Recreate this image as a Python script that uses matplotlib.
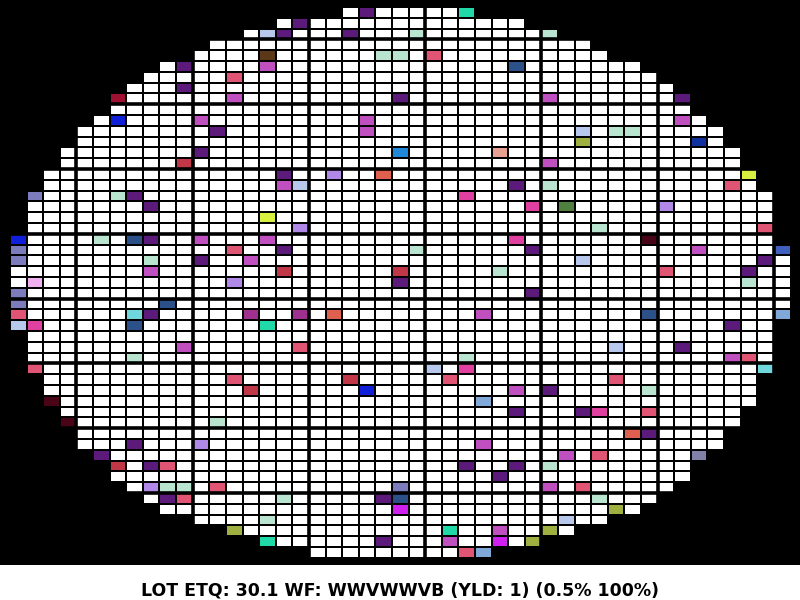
import numpy as np
import matplotlib
matplotlib.use("Agg")
import matplotlib.pyplot as plt
from matplotlib.colors import ListedColormap

# wafer map: first / last die column present in each row (row 0 = top)
row_start = [20, 16, 14, 12, 11, 9, 8, 7, 6, 6,
             5, 4, 4, 3, 3, 2, 2, 1, 1, 1,
             1, 0, 0, 0, 0, 0, 0, 0, 0, 0,
             1, 1, 1, 1, 2, 2, 2, 3, 3, 4,
             4, 5, 6, 6, 7, 8, 9, 11, 13, 15,
             18]
row_end = [27, 30, 32, 34, 35, 37, 38, 39, 40, 40,
           41, 42, 42, 43, 43, 44, 44, 45, 45, 45,
           45, 45, 46, 46, 46, 46, 46, 46, 46, 45,
           45, 45, 45, 45, 44, 44, 44, 43, 43, 42,
           42, 41, 40, 40, 39, 38, 37, 35, 33, 31,
           28]

# bin colours
bin_names = ["pass", "purple", "orchid", "pinkred", "red", "darkred", "maroon",
             "mint", "lightblue", "lavender", "slate", "steel", "blue",
             "brightblue", "cyan", "teal", "coral", "brown", "yellowgreen",
             "olive", "green", "hotpink", "lightpink", "magenta", "peach",
             "magpurple", "lightsteel", "navy", "lslate", "blue2"]
bin_colors = ["#ffffff", "#5c1a7a", "#c050c0", "#e05474", "#c03848", "#a01030",
              "#4a0418", "#b8e4d0", "#b8c8ec", "#b088e8", "#7c7cbc", "#2c5088",
              "#1020d8", "#2088d8", "#70d8dc", "#20d8a8", "#e06050", "#5a3818",
              "#d8f040", "#a0b040", "#508040", "#e040a0", "#f0b0f0", "#d020f0",
              "#e8a090", "#a03090", "#80a8d8", "#1030a0", "#8080a8", "#4060c0"]

# failing dies: (row, col, bin)
fails = [
    (0, 21, "purple"), (0, 27, "teal"),
    (1, 17, "purple"),
    (2, 15, "lightblue"), (2, 16, "purple"), (2, 20, "purple"), (2, 24, "mint"), (2, 32, "mint"),
    (4, 15, "brown"), (4, 22, "mint"), (4, 23, "mint"), (4, 25, "pinkred"),
    (5, 10, "purple"), (5, 15, "orchid"), (5, 30, "steel"),
    (6, 13, "pinkred"),
    (7, 10, "purple"),
    (8, 6, "darkred"), (8, 13, "orchid"), (8, 23, "purple"), (8, 32, "orchid"), (8, 40, "purple"),
    (10, 6, "blue"), (10, 11, "orchid"), (10, 21, "orchid"), (10, 40, "orchid"),
    (11, 12, "purple"), (11, 21, "orchid"), (11, 34, "lightblue"), (11, 36, "mint"), (11, 37, "mint"),
    (12, 34, "olive"), (12, 41, "navy"),
    (13, 11, "purple"), (13, 23, "brightblue"), (13, 29, "peach"),
    (14, 10, "red"), (14, 32, "orchid"),
    (15, 16, "purple"), (15, 19, "lavender"), (15, 22, "coral"), (15, 44, "yellowgreen"),
    (16, 16, "orchid"), (16, 17, "lightblue"), (16, 30, "purple"), (16, 32, "mint"), (16, 43, "pinkred"),
    (17, 1, "slate"), (17, 6, "mint"), (17, 7, "purple"), (17, 27, "hotpink"),
    (18, 8, "purple"), (18, 31, "hotpink"), (18, 33, "green"), (18, 39, "lavender"),
    (19, 15, "yellowgreen"),
    (20, 17, "lavender"), (20, 35, "mint"), (20, 45, "pinkred"),
    (21, 0, "blue"), (21, 5, "mint"), (21, 7, "steel"), (21, 8, "purple"), (21, 11, "orchid"),
    (21, 15, "orchid"), (21, 30, "hotpink"), (21, 38, "maroon"),
    (22, 0, "slate"), (22, 13, "pinkred"), (22, 16, "purple"), (22, 24, "mint"), (22, 31, "purple"),
    (22, 41, "orchid"), (22, 46, "blue2"),
    (23, 0, "slate"), (23, 8, "mint"), (23, 11, "purple"), (23, 14, "orchid"), (23, 34, "lightblue"),
    (23, 45, "purple"),
    (24, 8, "orchid"), (24, 16, "red"), (24, 23, "red"), (24, 29, "mint"), (24, 39, "pinkred"),
    (24, 44, "purple"),
    (25, 1, "lightpink"), (25, 13, "lavender"), (25, 23, "purple"), (25, 44, "mint"),
    (26, 0, "slate"), (26, 31, "purple"),
    (27, 0, "slate"), (27, 9, "steel"),
    (28, 0, "pinkred"), (28, 7, "cyan"), (28, 8, "purple"), (28, 14, "magpurple"), (28, 17, "magpurple"),
    (28, 19, "coral"), (28, 28, "orchid"), (28, 38, "steel"), (28, 46, "lightsteel"),
    (29, 0, "lightblue"), (29, 1, "hotpink"), (29, 7, "steel"), (29, 15, "teal"), (29, 43, "purple"),
    (31, 10, "orchid"), (31, 17, "pinkred"), (31, 36, "lightblue"), (31, 40, "purple"),
    (32, 7, "mint"), (32, 27, "mint"), (32, 43, "orchid"), (32, 44, "pinkred"),
    (33, 1, "pinkred"), (33, 25, "lightblue"), (33, 27, "hotpink"), (33, 45, "cyan"),
    (34, 13, "pinkred"), (34, 20, "red"), (34, 26, "pinkred"), (34, 36, "pinkred"),
    (35, 14, "red"), (35, 21, "blue"), (35, 30, "orchid"), (35, 32, "purple"), (35, 38, "mint"),
    (36, 2, "maroon"), (36, 28, "lightsteel"),
    (37, 30, "purple"), (37, 34, "purple"), (37, 35, "hotpink"), (37, 38, "pinkred"),
    (38, 3, "maroon"), (38, 12, "mint"),
    (39, 37, "coral"), (39, 38, "purple"),
    (40, 7, "purple"), (40, 11, "lavender"), (40, 28, "orchid"),
    (41, 5, "purple"), (41, 33, "orchid"), (41, 35, "pinkred"), (41, 41, "lslate"),
    (42, 6, "red"), (42, 8, "purple"), (42, 9, "pinkred"), (42, 27, "purple"), (42, 30, "purple"),
    (42, 32, "mint"),
    (43, 29, "purple"),
    (44, 8, "lavender"), (44, 9, "mint"), (44, 10, "mint"), (44, 12, "pinkred"), (44, 23, "slate"),
    (44, 32, "orchid"), (44, 34, "pinkred"),
    (45, 9, "purple"), (45, 10, "pinkred"), (45, 16, "mint"), (45, 22, "purple"), (45, 23, "steel"),
    (45, 35, "mint"),
    (46, 23, "magenta"), (46, 36, "olive"),
    (47, 15, "mint"), (47, 33, "lightblue"),
    (48, 13, "olive"), (48, 26, "teal"), (48, 29, "orchid"), (48, 32, "olive"),
    (49, 15, "teal"), (49, 22, "purple"), (49, 26, "orchid"), (49, 29, "magenta"), (49, 31, "olive"),
    (50, 27, "pinkred"), (50, 28, "lightsteel"),
]

# reticle boundaries (thicker lines)
reticle_cols = [4, 11, 18, 25, 32, 39, 46]
reticle_rows = [3, 9, 15, 21, 27, 33, 39, 45]

caption = "LOT ETQ: 30.1 WF: WWVWWVB (YLD: 1) (0.5% 100%)"

nrows = len(row_start)
ncols = max(row_end) + 1

grid = np.full((nrows, ncols), np.nan)
for r, (s, e) in enumerate(zip(row_start, row_end)):
    grid[r, s:e + 1] = 0
for r, c, b in fails:
    grid[r, c] = bin_names.index(b)
grid = np.ma.masked_invalid(grid)

fig = plt.figure(figsize=(8, 6), dpi=100)
ax = fig.add_axes([0, 35 / 600, 1, 565 / 600])
ax.set_facecolor("black")

cmap = ListedColormap(bin_colors)
ax.pcolormesh(np.arange(ncols + 1), np.arange(nrows + 1), grid, cmap=cmap,
              vmin=-0.5, vmax=len(bin_colors) - 0.5,
              edgecolors="black", linewidth=1.35)

for c in reticle_cols:
    ax.axvline(c, color="black", lw=2.6)
for r in reticle_rows:
    ax.axhline(r, color="black", lw=2.6)

# die pitch ~16.6 x 10.8 px, wafer offset 10 px left / 7 px top
ax.set_xlim(-10 / 16.6, 790 / 16.6 - 0.02)
ax.set_ylim(558 / 10.8, -7 / 10.8)
ax.set_xticks([])
ax.set_yticks([])
for sp in ax.spines.values():
    sp.set_visible(False)

fig.text(0.5, 1 - 590 / 600, caption, ha="center", va="center",
         fontsize=12.5, fontweight="bold", color="black")

fig.savefig("out.png", dpi=100)
